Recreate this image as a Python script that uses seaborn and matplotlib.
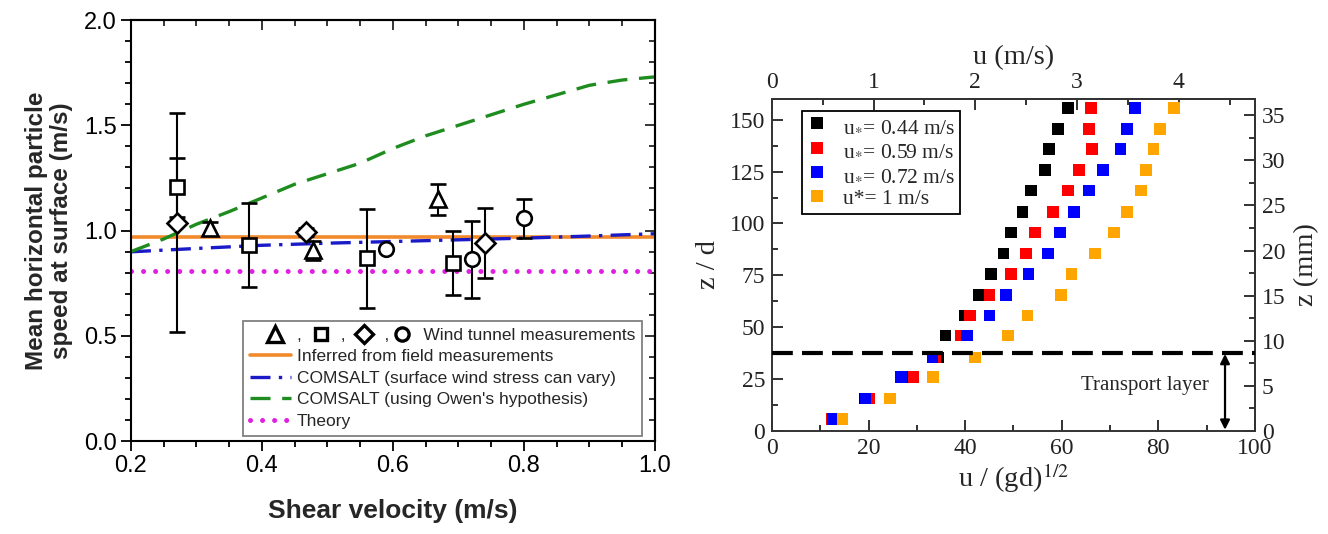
import numpy as np
import pandas as pd
import matplotlib
matplotlib.use("Agg")
import matplotlib.pyplot as plt
from matplotlib.lines import Line2D
from matplotlib.legend_handler import HandlerBase
from matplotlib.ticker import MultipleLocator, FormatStrFormatter
import seaborn as sns

# ---------------- data: left panel ----------------
tri_x = [0.321, 0.478, 0.669]
tri_y = [1.010, 0.907, 1.148]
tri_err = [0.030, 0.045, 0.075]

sq_x = [0.270, 0.380, 0.560, 0.691]
sq_y = [1.205, 0.931, 0.868, 0.847]
sq_err = [0.141, 0.200, 0.235, 0.152]

dia_x = [0.270, 0.468, 0.740]
dia_y = [1.037, 0.994, 0.942]
dia_err = [0.520, 0.020, 0.166]

circ_x = [0.589, 0.720, 0.800]
circ_y = [0.911, 0.863, 1.058]
circ_err = [0.0, 0.182, 0.093]

field_x = [0.2, 1.0]
field_y = [0.97, 0.97]
theory_x = [0.2, 1.0]
theory_y = [0.81, 0.81]

comsalt_vary_x = [0.2, 0.3, 0.4, 0.5, 0.6, 0.7, 0.8, 0.9, 1.0]
comsalt_vary_y = [0.899, 0.915, 0.930, 0.940, 0.948, 0.956, 0.964, 0.974, 0.985]

comsalt_owen_x = [0.2, 0.25, 0.3, 0.35, 0.4, 0.45, 0.5, 0.55, 0.6, 0.65,
                  0.7, 0.75, 0.8, 0.85, 0.9, 0.95, 1.0]
comsalt_owen_y = [0.90, 0.96, 1.03, 1.09, 1.155, 1.22, 1.27, 1.32, 1.39, 1.45,
                  1.50, 1.55, 1.60, 1.645, 1.69, 1.715, 1.73]

left_labels = ["Wind tunnel measurements",
               "Inferred from field measurements",
               "COMSALT (surface wind stress can vary)",
               "COMSALT (using Owen's hypothesis)",
               "Theory"]

# ---------------- data: right panel ----------------
z_over_d = [5.7, 15.7, 25.9, 35.5, 46.0, 55.7, 65.6, 75.8, 85.6, 95.7,
            105.5, 115.9, 125.7, 135.8, 145.6, 155.6]
u_044 = [12.4, 19.2, 27.3, 34.4, 35.9, 39.9, 42.8, 45.3, 47.9, 49.5,
         51.9, 53.6, 56.5, 57.3, 59.2, 61.3]
u_059 = [12.3, 20.2, 29.3, 33.8, 39.2, 41.0, 45.0, 49.5, 52.6, 54.4,
         58.2, 61.3, 63.6, 66.2, 65.7, 66.0]
u_072 = [12.5, 19.4, 26.7, 33.2, 40.4, 45.0, 48.5, 53.1, 57.2, 59.6,
         62.5, 65.7, 68.6, 72.2, 73.5, 75.1]
u_100 = [14.6, 24.5, 33.3, 42.1, 48.9, 52.9, 59.9, 62.0, 66.9, 70.8,
         73.5, 76.4, 77.4, 79.0, 80.3, 83.2]
run_labels = [r"u$_{*}$= 0.44 m/s", r"u$_{*}$= 0.59 m/s",
              r"u$_{*}$= 0.72 m/s", "u*= 1 m/s"]
run_colors = ["#000000", "#ff0000", "#0000ff", "#ffa500"]
transport_layer = 37.8
transport_text = "Transport layer"

GRAIN_D = 0.23e-3   # m
GRAV = 9.81
scale_u = 1.0 / np.sqrt(GRAV * GRAIN_D)   # u/(gd)^1/2 per m/s
scale_z = GRAIN_D * 1000.0                # mm per z/d

# ---------------- style ----------------
sns.set_theme(style="ticks")
plt.rcParams["font.family"] = ["Liberation Sans", "DejaVu Sans"]
plt.rcParams["mathtext.fontset"] = "stix"

fig = plt.figure(figsize=(13.28, 5.34), dpi=100)
ax1 = fig.add_axes([0.0986, 0.174, 0.3946, 0.7885])
ax2 = fig.add_axes([0.5813, 0.1929, 0.3637, 0.6217])

# ================= LEFT PANEL =================
orange = "#f28a2b"
blue = "#1a1ac8"
green = "#1e8c1e"
magenta = "#e020e0"
DASHDOT = (0, (6, 2.5, 1, 2.5))
DASH = (0, (6, 3.5))
DOT = (0, (0.01, 2.4))

sns.lineplot(x=field_x, y=field_y, ax=ax1, color=orange, lw=2.6, legend=False,
             estimator=None, sort=False, zorder=2)
sns.lineplot(x=comsalt_vary_x, y=comsalt_vary_y, ax=ax1, color=blue, lw=2.4,
             legend=False, estimator=None, sort=False, zorder=2,
             linestyle=DASHDOT)
sns.lineplot(x=comsalt_owen_x, y=comsalt_owen_y, ax=ax1, color=green, lw=2.4,
             legend=False, estimator=None, sort=False, zorder=2,
             linestyle=DASH)
sns.lineplot(x=theory_x, y=theory_y, ax=ax1, color=magenta, lw=3.6,
             legend=False, estimator=None, sort=False, zorder=2,
             linestyle=DOT)
ax1.get_lines()[-1].set_dash_capstyle("round")

eb_kw = dict(ls="none", color="black", ecolor="black", elinewidth=1.5,
             capsize=5.5, capthick=1.5, mfc="white", mec="black", mew=1.9,
             zorder=4)
ax1.errorbar(tri_x, tri_y, yerr=tri_err, marker="^", ms=12, **eb_kw)
ax1.errorbar(sq_x, sq_y, yerr=sq_err, marker="s", ms=9.5, **eb_kw)
ax1.errorbar(dia_x, dia_y, yerr=dia_err, marker="D", ms=10, **eb_kw)
ax1.errorbar(circ_x, circ_y, yerr=circ_err, marker="o", ms=10.5, **eb_kw)

ax1.set_xlim(0.2, 1.0)
ax1.set_ylim(0.0, 2.0)
ax1.xaxis.set_major_locator(MultipleLocator(0.2))
ax1.xaxis.set_minor_locator(MultipleLocator(0.05))
ax1.yaxis.set_major_locator(MultipleLocator(0.5))
ax1.yaxis.set_minor_locator(MultipleLocator(0.1))
ax1.xaxis.set_major_formatter(FormatStrFormatter("%.1f"))
ax1.yaxis.set_major_formatter(FormatStrFormatter("%.1f"))
ax1.tick_params(which="both", direction="out", top=False, right=False,
                labelsize=17, width=1.3, colors="black", pad=3)
ax1.tick_params(which="major", length=7)
ax1.tick_params(which="minor", length=4.5)
for sp in ax1.spines.values():
    sp.set_visible(True)
    sp.set_linewidth(1.5)
    sp.set_color("black")

secx1 = ax1.secondary_xaxis("top")
secx1.xaxis.set_major_locator(MultipleLocator(0.2))
secx1.xaxis.set_minor_locator(MultipleLocator(0.05))
secx1.tick_params(which="both", direction="in", labeltop=False, width=1.3)
secx1.tick_params(which="major", length=7)
secx1.tick_params(which="minor", length=4.5)
secx1.spines["top"].set_linewidth(1.5)
secy1 = ax1.secondary_yaxis("right")
secy1.yaxis.set_major_locator(MultipleLocator(0.5))
secy1.yaxis.set_minor_locator(MultipleLocator(0.1))
secy1.tick_params(which="both", direction="in", labelright=False, width=1.3)
secy1.tick_params(which="major", length=7)
secy1.tick_params(which="minor", length=4.5)
secy1.spines["right"].set_linewidth(1.5)

ax1.set_xlabel("Shear velocity (m/s)", fontsize=19, fontweight="bold",
               labelpad=16)
ax1.set_ylabel("Mean horizontal particle\nspeed at surface (m/s)",
               fontsize=17.5, fontweight="bold", labelpad=8, linespacing=1.1)


class WindTunnelHandler(HandlerBase):
    """The four open markers of the wind-tunnel row (positions in points)."""
    marks = [(18.0, "^", 11.5), (51.1, "s", 8.5), (82.3, "D", 9.0),
             (110.0, "o", 9.5)]

    def create_artists(self, legend, orig_handle, xdescent, ydescent,
                       width, height, fontsize, trans):
        y = height / 2.0 - ydescent
        return [Line2D([xp - xdescent], [y], ls="none", marker=mk, ms=ms,
                       mfc="white", mec="black", mew=2.4, transform=trans)
                for xp, mk, ms in self.marks]


h_wind = Line2D([], [], ls="none", marker="^")
h_field = Line2D([], [], color=orange, lw=2.6)
h_vary = Line2D([], [], color=blue, lw=2.4, linestyle=DASHDOT)
h_owen = Line2D([], [], color=green, lw=2.4, linestyle=DASH)
h_theory = Line2D([], [], color=magenta, lw=3.6, linestyle=DOT,
                  dash_capstyle="round")
wind_label = "," + " " * 8 + "," + " " * 8 + "," + " " * 7 + left_labels[0]
leg1 = ax1.legend([h_wind, h_field, h_vary, h_owen, h_theory],
                  [wind_label] + left_labels[1:],
                  handler_map={h_wind: WindTunnelHandler()},
                  loc="lower right", bbox_to_anchor=(0.975, 0.013),
                  fontsize=12.5, frameon=True, fancybox=False, framealpha=1,
                  edgecolor="#808080", handlelength=2.4, handletextpad=0.3,
                  labelspacing=0.36, borderpad=0.4, borderaxespad=0.0)
leg1.get_frame().set_linewidth(1.3)
leg1.set_zorder(6)

# ================= RIGHT PANEL =================
serif = ["Liberation Serif", "DejaVu Serif"]
df = pd.DataFrame({
    "u": u_044 + u_059 + u_072 + u_100,
    "z": z_over_d * 4,
    "run": sum([[lab] * len(z_over_d) for lab in run_labels], []),
})
sns.scatterplot(data=df, x="u", y="z", hue="run", hue_order=run_labels,
                palette=run_colors, marker="s", s=70, linewidth=0,
                ax=ax2, zorder=3, legend=True)

ax2.axhline(transport_layer, color="black", lw=3.0, linestyle=(0, (5, 2.2)),
            zorder=4)
ax2.annotate("", xy=(93.8, 0.6), xytext=(93.8, transport_layer),
             arrowprops=dict(arrowstyle="<|-|>", color="black", lw=1.6,
                             mutation_scale=14, shrinkA=1, shrinkB=0),
             zorder=5)
ax2.text(77.2, 22.0, transport_text, ha="center", va="center",
         fontsize=15, family=serif)

ax2.set_xlim(0, 100)
ax2.set_ylim(0, 160)
ax2.xaxis.set_major_locator(MultipleLocator(20))
ax2.xaxis.set_minor_locator(MultipleLocator(10))
ax2.yaxis.set_major_locator(MultipleLocator(25))
ax2.yaxis.set_minor_locator(MultipleLocator(12.5))
ax2.tick_params(which="both", direction="in", top=False, right=False,
                labelsize=17, width=1.3, colors="#222222", pad=5)
ax2.tick_params(which="major", length=8)
ax2.tick_params(which="minor", length=4.5)
for lab in ax2.get_xticklabels() + ax2.get_yticklabels():
    lab.set_family(serif)
for sp in ax2.spines.values():
    sp.set_visible(True)
    sp.set_linewidth(1.4)
    sp.set_color("#333333")

ax2.set_xlabel(r"u / (gd)$^{1/2}$", fontsize=20.5, family=serif, labelpad=2)
ax2.set_ylabel("z / d", fontsize=20.5, family=serif, labelpad=6)

secx2 = ax2.secondary_xaxis("top", functions=(lambda x: x / scale_u,
                                               lambda u: u * scale_u))
secx2.set_xticks([0, 1, 2, 3, 4])
secx2.set_xticks([0.5, 1.5, 2.5, 3.5, 4.5], minor=True)
secx2.tick_params(which="both", direction="in", labelsize=17, width=1.3,
                  colors="#222222", pad=4)
secx2.tick_params(which="major", length=8)
secx2.tick_params(which="minor", length=4.5)
secx2.spines["top"].set_linewidth(1.4)
secx2.spines["top"].set_color("#333333")
secx2.set_xlabel("u (m/s)", fontsize=20.5, family=serif, labelpad=6)
for lab in secx2.get_xticklabels():
    lab.set_family(serif)

secy2 = ax2.secondary_yaxis("right", functions=(lambda z: z * scale_z,
                                                 lambda mm: mm / scale_z))
secy2.set_yticks([0, 5, 10, 15, 20, 25, 30, 35])
secy2.set_yticks([2.5, 7.5, 12.5, 17.5, 22.5, 27.5, 32.5], minor=True)
secy2.tick_params(which="both", direction="in", labelsize=17, width=1.3,
                  colors="#222222", pad=5)
secy2.tick_params(which="major", length=8)
secy2.tick_params(which="minor", length=4.5)
secy2.spines["right"].set_linewidth(1.4)
secy2.spines["right"].set_color("#333333")
secy2.set_ylabel("z (mm)", fontsize=20.5, family=serif, labelpad=6)
for lab in secy2.get_yticklabels():
    lab.set_family(serif)

handles, labels = ax2.get_legend_handles_labels()
leg2 = ax2.legend(handles, labels, loc="upper left",
                  bbox_to_anchor=(0.062, 0.964),
                  prop={"family": serif, "size": 15.5},
                  frameon=True, fancybox=False, framealpha=1,
                  edgecolor="black", handlelength=1.0, handletextpad=0.7,
                  labelspacing=0.2, borderpad=0.22, borderaxespad=0.0,
                  markerscale=1.1)
leg2.get_frame().set_linewidth(1.3)

fig.savefig("out.png", dpi=100)
